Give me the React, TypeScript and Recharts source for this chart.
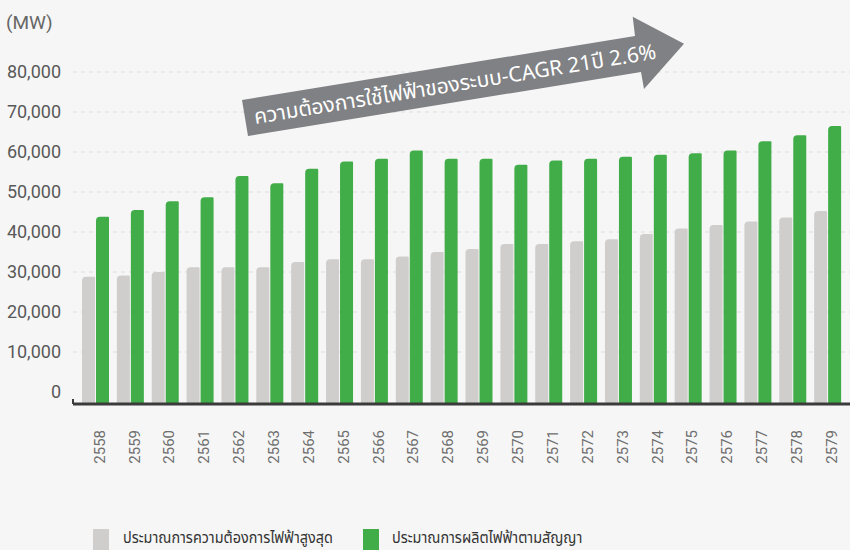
import React from 'react';
import { BarChart, Bar, XAxis, YAxis, CartesianGrid, Customized } from 'recharts';

const years = [
  '2558', '2559', '2560', '2561', '2562', '2563', '2564', '2565', '2566', '2567', '2568',
  '2569', '2570', '2571', '2572', '2573', '2574', '2575', '2576', '2577', '2578', '2579',
];
// peak demand forecast (MW)
const peakDemand = [
  28800, 29100, 30000, 31200, 31200, 31200, 32500, 33200, 33200, 33900, 35000,
  35750, 37000, 37000, 37700, 38200, 39500, 40900, 41750, 42650, 43600, 45250,
];
// contracted generation capacity (MW)
const contracted = [
  43800, 45500, 47700, 48700, 54000, 52200, 55800, 57600, 58300, 60400, 58300,
  58300, 56800, 57900, 58300, 58800, 59300, 59700, 60400, 62700, 64200, 66500,
];
const yTicks = [0, 10000, 20000, 30000, 40000, 50000, 60000, 70000, 80000];
const legendLabels = ['ประมาณการความต้องการไฟฟ้าสูงสุด', 'ประมาณการผลิตไฟฟ้าตามสัญญา'];
const arrowLabel = 'ความต้องการใช้ไฟฟ้าของระบบ-CAGR 21ปี 2.6%';

const GRAY = '#cfcecc';
const GREEN = '#41ad49';
const AXIS_MIN = -3000;
const THAI_FONT = '"Noto Sans Thai", "Noto Sans", Roboto, sans-serif';

const data = years.map((year, i) => ({ year, demand: peakDemand[i], supply: contracted[i] }));

const YearTick = ({ x, y, payload }: any) => (
  <text
    transform={`translate(${x + 4},${y + 18}) rotate(-90)`}
    textAnchor="end"
    dy="0.35em"
    fontSize={15}
    fill="#6e6e6e"
    fontFamily="Roboto, sans-serif"
  >
    {payload.value}
  </text>
);

const TrendArrow = () => (
  <g>
    <line x1={73} y1={399} x2={73} y2={404} stroke="#3b3b3b" strokeWidth={2} />
    <polygon
      points="242,100 635,36 632.7,16.7 684,43.7 644,89 641,72 248,136"
      fill="#808184"
    />
    <text
      x={455}
      y={84}
      dy="0.35em"
      textAnchor="middle"
      fill="#fff"
      fontSize={21}
      fontFamily={THAI_FONT}
      transform="rotate(-9.25 455 84)"
    >
      {arrowLabel}
    </text>
  </g>
);

export default function App() {
  return (
    <div
      style={{
        position: 'fixed',
        left: 0,
        top: 0,
        width: 850,
        height: 550,
        background: '#f6f6f6',
        fontFamily: 'Roboto, sans-serif',
      }}
    >
      <div style={{ position: 'absolute', left: 6, top: 11, fontSize: 19, color: '#666' }}>(MW)</div>
      <BarChart
        width={850}
        height={550}
        data={data}
        margin={{ top: 72, right: 0, bottom: 116, left: 0 }}
        barSize={13}
        barGap={1}
      >
        <CartesianGrid
          vertical={false}
          horizontalValues={yTicks.slice(1)}
          strokeDasharray="4 4"
          stroke="#dcdcdc"
        />
        <YAxis
          width={73}
          domain={[AXIS_MIN, 80000]}
          ticks={yTicks}
          axisLine={false}
          tickLine={false}
          tickMargin={6}
          tick={{ fill: '#595959', fontSize: 18 }}
          tickFormatter={(v: number) => v.toLocaleString('en-US')}
        />
        <XAxis
          dataKey="year"
          interval={0}
          padding={{ left: 5, right: 5 }}
          axisLine={{ stroke: '#3b3b3b', strokeWidth: 3 }}
          tickLine={false}
          tick={<YearTick />}
        />
        <Bar
          dataKey={(d: any) => [AXIS_MIN, d.demand]}
          fill={GRAY}
          radius={[4, 1, 0, 0]}
          isAnimationActive={false}
        />
        <Bar
          dataKey={(d: any) => [AXIS_MIN, d.supply]}
          fill={GREEN}
          radius={[4, 1, 0, 0]}
          isAnimationActive={false}
        />
        <Customized component={TrendArrow} />
      </BarChart>
      {legendLabels.map((label, i) => (
        <div
          key={label}
          style={{
            position: 'absolute',
            left: i === 0 ? 93 : 363,
            top: 529,
            display: 'flex',
            alignItems: 'flex-start',
            fontFamily: THAI_FONT,
            fontSize: 16,
            color: '#333',
          }}
        >
          <span
            style={{
              width: 16,
              height: 21,
              background: i === 0 ? GRAY : GREEN,
              marginRight: i === 0 ? 14 : 13,
              display: 'inline-block',
            }}
          />
          <span
            style={{
              lineHeight: '18px',
              display: 'inline-block',
              transform: 'scaleX(0.9)',
              transformOrigin: 'left center',
              whiteSpace: 'nowrap',
            }}
          >
            {label}
          </span>
        </div>
      ))}
    </div>
  );
}
